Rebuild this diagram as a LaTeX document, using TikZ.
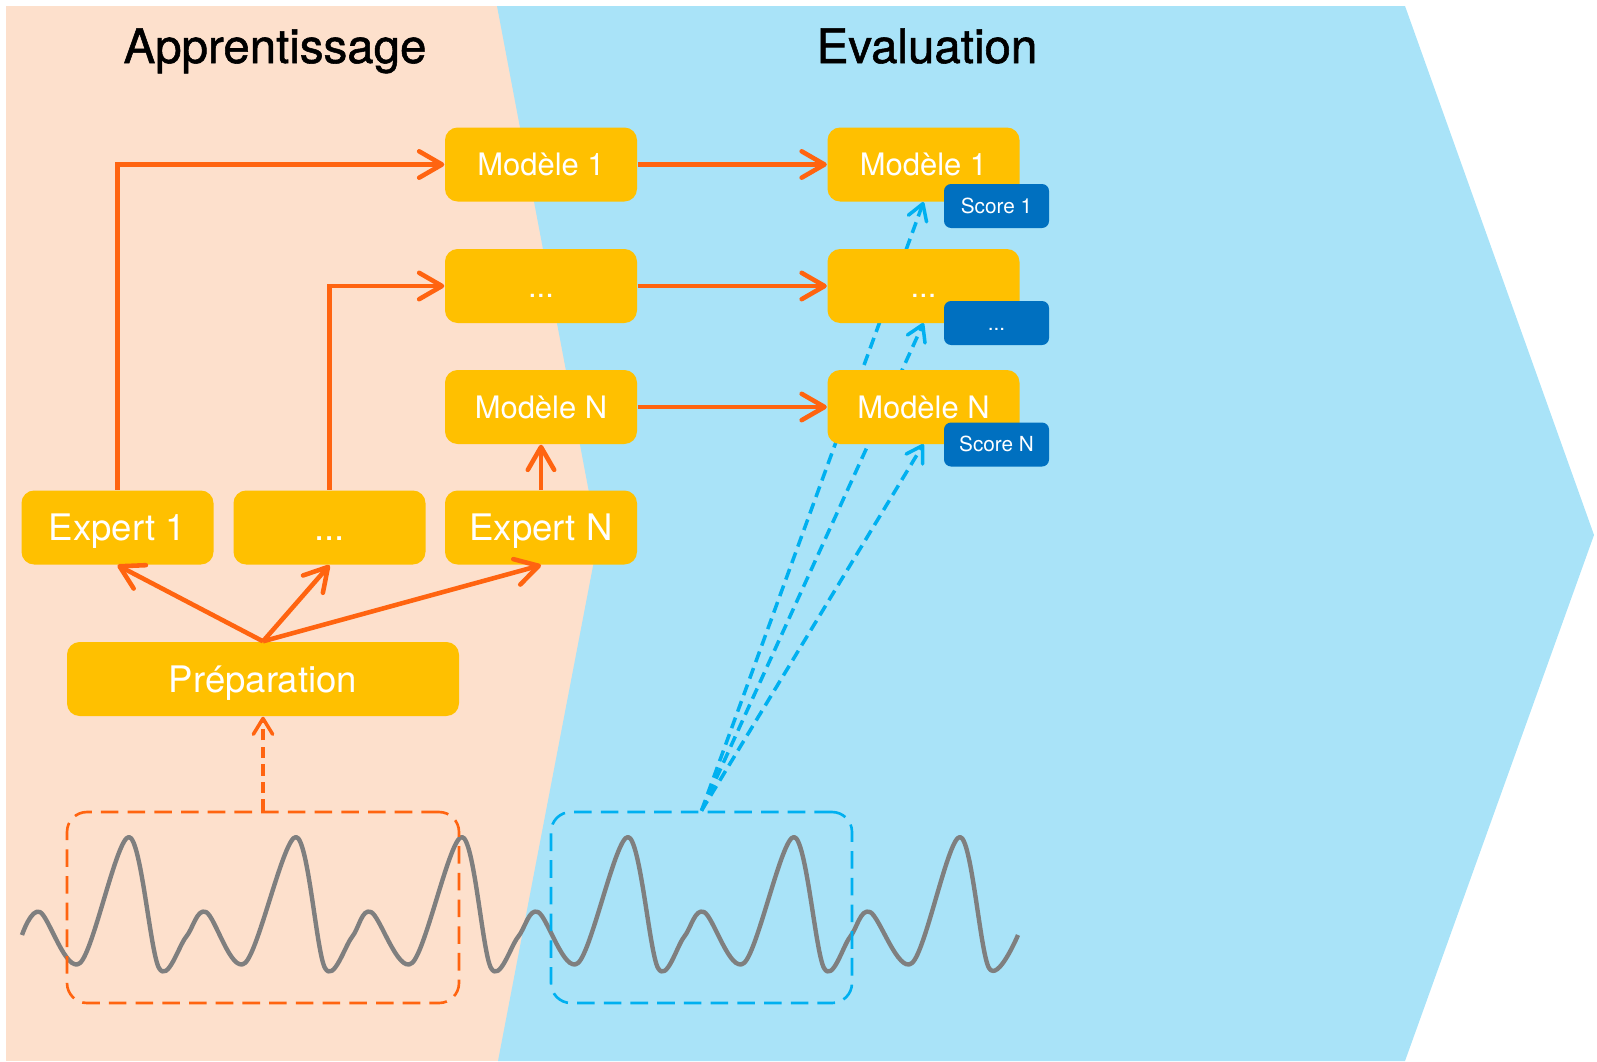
\documentclass[tikz,border=0pt]{standalone}
\usepackage{fontspec}
\setmainfont{TeX Gyre Heros}
\usetikzlibrary{arrows.meta}

\definecolor{peach}{HTML}{FDE0CC}
\definecolor{skyblue}{HTML}{A9E3F8}
\definecolor{boxyellow}{HTML}{FFC000}
\definecolor{arroworange}{HTML}{FF6410}
\definecolor{scoreblue}{HTML}{0070C0}
\definecolor{dashblue}{HTML}{00B0F0}
\definecolor{wavegray}{HTML}{7F7F7F}

\begin{document}
\begin{tikzpicture}[
    block/.style={fill=boxyellow, rounded corners=3.6pt, minimum width=1.92cm, minimum height=0.74cm,
        inner sep=0pt, text=white, font=\fontsize{8.8}{10}\selectfont, text height=6.3pt, text depth=0pt},
    bigblock/.style={block, font=\fontsize{10.4}{12}\selectfont, text height=7.5pt},
    scorebox/.style={fill=scoreblue, rounded corners=2pt, minimum width=1.05cm, minimum height=0.44cm,
        inner sep=0pt, text=white, font=\fontsize{5.9}{7}\selectfont, text height=4.25pt, text depth=0pt},
    phase/.style={font=\fontsize{13.5}{16}\selectfont\addfontfeature{FakeBold=1.2}, anchor=base},
    flow/.style={draw=arroworange, line width=1.3pt, -{Straight Barb[length=6.5pt,width=7.5pt,round]}},
    feed/.style={line width=1pt, dash pattern=on 3.2pt off 1.8pt, -{Straight Barb[length=4.5pt,width=5.5pt,round]}},
    window/.style={line width=0.75pt, dash pattern=on 5pt off 2.6pt, rounded corners=0.2cm,
        minimum width=#1, minimum height=1.91cm, inner sep=0pt},
]

    \useasboundingbox (0,0) rectangle (15.97,10.61);

    % Background: learning and evaluation phases
    \fill[peach] (0.06,0) rectangle (6.2,10.55);
    \fill[skyblue] (4.97,10.55) -- (14.05,10.55) -- (15.94,5.26) -- (14.05,0) -- (4.98,0) -- (5.98,5.21) -- cycle;

    % Phase titles
    \node[phase] (learntitle) at (2.75,9.98) {Apprentissage};
    \node[phase] (evaltitle) at (9.27,9.98) {Evaluation};

    % Signal
    \draw[wavegray, line width=1.25pt, line join=round] plot[smooth, tension=0.55] coordinates {
        (0.22,1.26) (0.40,1.49) (0.80,0.98) (1.29,2.24) (1.59,0.93) (1.86,1.24) (2.06,1.49)
        (2.45,0.98) (2.96,2.24) (3.25,0.93) (3.52,1.24) (3.71,1.49) (4.12,0.98) (4.62,2.24)
        (4.91,0.93) (5.18,1.24) (5.38,1.49) (5.78,0.98) (6.28,2.24) (6.58,0.93) (6.84,1.24)
        (7.04,1.49) (7.44,0.98) (7.94,2.24) (8.24,0.93) (8.50,1.24) (8.70,1.49) (9.12,0.98)
        (9.60,2.24) (9.89,0.93) (10.18,1.26)};

    % Data windows
    \node[window=3.92cm, draw=arroworange] (trainbox) at (2.63,1.535) {};
    \node[window=3.01cm, draw=dashblue] (evalbox) at (7.015,1.535) {};

    % Evaluation models (placed first so the test arrows pass behind)
    \coordinate (E1) at (9.235,8.965);
    \coordinate (E2) at (9.235,7.75);
    \coordinate (E3) at (9.235,6.54);

    % Test data arrows
    \draw[feed, dashblue] (evalbox.north) -- (E1 |- 0,8.59);
    \draw[feed, dashblue] (evalbox.north) -- (E2 |- 0,7.38);
    \draw[feed, dashblue] (evalbox.north) -- (E3 |- 0,6.17);

    % Learning boxes
    \node[bigblock, minimum width=3.92cm] (prep) at (2.63,3.82) {Préparation};
    \node[bigblock] (expert1) at (1.175,5.335) {Expert 1};
    \node[bigblock] (expertmid) at (3.295,5.335) {...};
    \node[bigblock] (expertN) at (5.41,5.335) {Expert N};
    \node[block] (model1) at (5.41,8.965) {Modèle 1};
    \node[block] (modelmid) at (5.41,7.75) {...};
    \node[block] (modelN) at (5.41,6.54) {Modèle N};

    % Evaluation boxes with their scores
    \node[block] (eval1) at (E1) {Modèle 1};
    \node[block] (evalmid) at (E2) {...};
    \node[block] (evalN) at (E3) {Modèle N};
    \node[scorebox] (score1) at (9.965,8.55) {Score 1};
    \node[scorebox] (scoremid) at (9.965,7.38) {...};
    \node[scorebox] (scoreN) at (9.965,6.165) {Score N};

    % Training data into preparation
    \draw[feed, arroworange] (trainbox.north) -- (prep.south);

    % Preparation to experts
    \draw[flow] (prep.north) -- (expert1.south);
    \draw[flow] (prep.north) -- (expertmid.south);
    \draw[flow] (prep.north) -- (expertN.south);

    % Experts to models
    \draw[flow] (expert1.north) |- (model1.west);
    \draw[flow] (expertmid.north) |- (modelmid.west);
    \draw[flow] (expertN.north) -- (modelN.south);

    % Models to evaluation
    \draw[flow] (model1.east) -- (eval1.west);
    \draw[flow] (modelmid.east) -- (evalmid.west);
    \draw[flow] (modelN.east) -- (evalN.west);

\end{tikzpicture}
\end{document}
